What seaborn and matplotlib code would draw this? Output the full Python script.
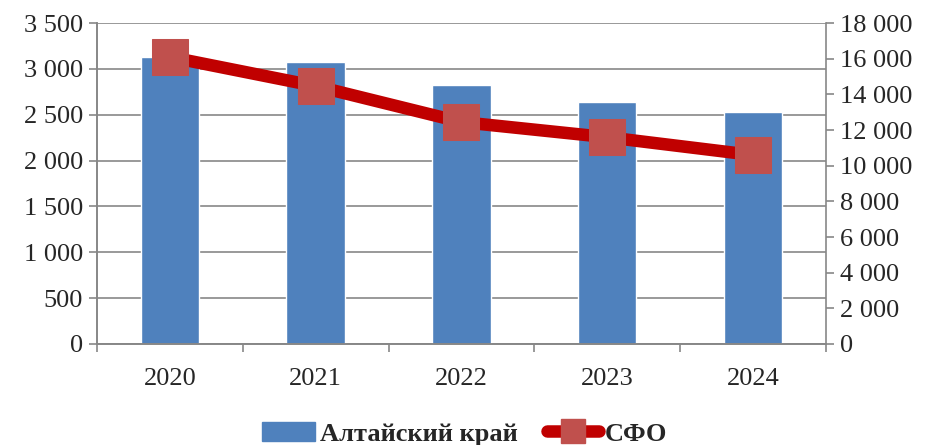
import matplotlib
matplotlib.use("Agg")
import matplotlib.pyplot as plt
import matplotlib.ticker as mticker
from matplotlib.lines import Line2D
from matplotlib.patches import Patch
import pandas as pd
import seaborn as sns

years = ["2020", "2021", "2022", "2023", "2024"]
altai = [3130, 3075, 2825, 2640, 2530]
sfo = [16100, 14470, 12450, 11600, 10600]

df = pd.DataFrame({"year": years, "altai": altai, "sfo": sfo})

sns.set_style("white")
plt.rcParams["font.family"] = ["Liberation Serif", "DejaVu Serif"]

fig = plt.figure(figsize=(9.29, 4.45), dpi=100)
ax = fig.add_axes([0.1044, 0.227, 0.7846, 0.721])
grey = "#878787"

sns.barplot(data=df, x="year", y="altai", color="#4F81BD", saturation=1,
            width=0.4, ax=ax, zorder=2)
ax.set_ylim(0, 3500)
ax.yaxis.set_major_locator(mticker.MultipleLocator(500))
fmt = mticker.FuncFormatter(lambda v, p: f"{int(v):,}".replace(",", " "))
ax.yaxis.set_major_formatter(fmt)
ax.grid(axis="y", color=grey, linewidth=1.2, zorder=0)
ax.set_axisbelow(True)
ax.set_xlim(-0.5, 4.5)
ax.set_xlabel("")
ax.set_ylabel("")

ax2 = ax.twinx()
sns.lineplot(data=df, x="year", y="sfo", color="#C00000", linewidth=9,
             marker="s", markersize=26, markerfacecolor="#C0504D",
             markeredgecolor="#C0504D", ax=ax2, zorder=3)
ax2.set_ylim(0, 18000)
ax2.yaxis.set_major_locator(mticker.MultipleLocator(2000))
ax2.yaxis.set_major_formatter(fmt)
ax2.set_ylabel("")
ax2.set_xlim(-0.5, 4.5)

for a in (ax, ax2):
    for s in a.spines.values():
        s.set_color(grey)
        s.set_linewidth(1.2)
    a.spines["top"].set_visible(False)
ax.spines["right"].set_visible(False)

ax.tick_params(axis="y", which="major", length=6, color=grey, width=1.2,
               left=True, labelsize=19, pad=4)
ax2.tick_params(axis="y", which="major", length=6, color=grey, width=1.2,
                right=True, labelsize=19, pad=4)
ax.set_xticks(range(len(years)))
ax.set_xticklabels(years)
ax.set_xticks([i - 0.5 for i in range(len(years) + 1)], minor=True)
ax.tick_params(axis="x", which="major", length=0, labelsize=19, pad=17)
ax.tick_params(axis="x", which="minor", length=6, color=grey, width=1.2,
               bottom=True)

handles = [Patch(color="#4F81BD"),
           Line2D([], [], color="#C00000", linewidth=9, marker="s",
                  markersize=17, markerfacecolor="#C0504D",
                  markeredgecolor="#C0504D", solid_capstyle="round")]
fig.legend(handles, ["Алтайский край", "СФО"], loc="lower center",
           bbox_to_anchor=(0.5, -0.055), ncol=2, frameon=False,
           prop={"weight": "bold", "size": 19}, handlelength=2.0,
           handletextpad=0.2, columnspacing=1.1)

fig.savefig("out.png", dpi=100)
